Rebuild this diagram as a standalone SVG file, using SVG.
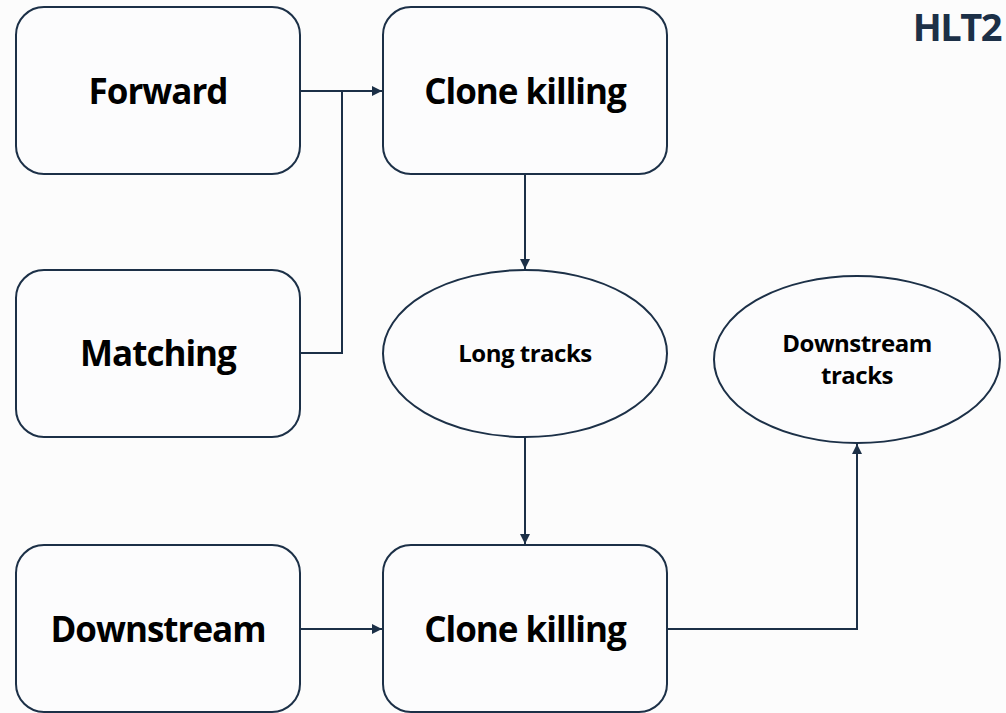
<svg xmlns="http://www.w3.org/2000/svg" width="1006" height="713" viewBox="0 0 1006 713">
<defs>
<style>
.n{fill:#fcfcfd;stroke:#1c3047;stroke-width:2}
.c{fill:none;stroke:#1c3047;stroke-width:2}
.t{font-family:"Open Sans","Noto Sans",sans-serif;font-weight:bold;fill:#000;text-anchor:middle;letter-spacing:-1px}
.big{font-size:35px}
.sm{font-size:24px;letter-spacing:-0.5px}
</style>
<marker id="ab" viewBox="0 0 10 10" refX="10" refY="5" markerWidth="12" markerHeight="10" markerUnits="userSpaceOnUse" orient="auto"><path d="M0,0 L10,5 L0,10 z" fill="#1c3047"/></marker>
</defs>
<rect width="1006" height="713" fill="#fcfcfc"/>
<g id="connectors">
<path class="c" d="M300,91 H382" marker-end="url(#ab)"/>
<path class="c" d="M300,353 H342 V91"/>
<path class="c" d="M525,174 V269" marker-end="url(#ab)"/>
<path class="c" d="M525,437 V544" marker-end="url(#ab)"/>
<path class="c" d="M300,629 H382" marker-end="url(#ab)"/>
<path class="c" d="M667,629 H857 V444" marker-end="url(#ab)"/>
</g>
<g id="forward"><rect class="n" x="16" y="7" width="284" height="167" rx="28"/><text class="t big" x="158" y="104">Forward</text></g>
<g id="clone1"><rect class="n" x="383" y="7" width="284" height="167" rx="28"/><text class="t big" x="525" y="104">Clone killing</text></g>
<g id="matching"><rect class="n" x="16" y="270" width="284" height="167" rx="28"/><text class="t big" x="158" y="366">Matching</text></g>
<g id="longtracks"><ellipse class="n" cx="525" cy="353.5" rx="142" ry="83.5"/><text class="t sm" x="525" y="362">Long tracks</text></g>
<g id="dstracks"><ellipse class="n" cx="857" cy="359.5" rx="143" ry="83.5"/><text class="t sm" x="857" y="352">Downstream</text><text class="t sm" x="857" y="384">tracks</text></g>
<g id="downstream"><rect class="n" x="16" y="545" width="284" height="167" rx="28"/><text class="t big" x="158" y="642">Downstream</text></g>
<g id="clone2"><rect class="n" x="383" y="545" width="284" height="167" rx="28"/><text class="t big" x="525" y="642">Clone killing</text></g>
<g id="hlt2"><text x="1001" y="41" font-family="'Open Sans','Noto Sans',sans-serif" font-weight="bold" font-size="38" fill="#1c3047" text-anchor="end" letter-spacing="-1.5">HLT2</text></g>
</svg>
